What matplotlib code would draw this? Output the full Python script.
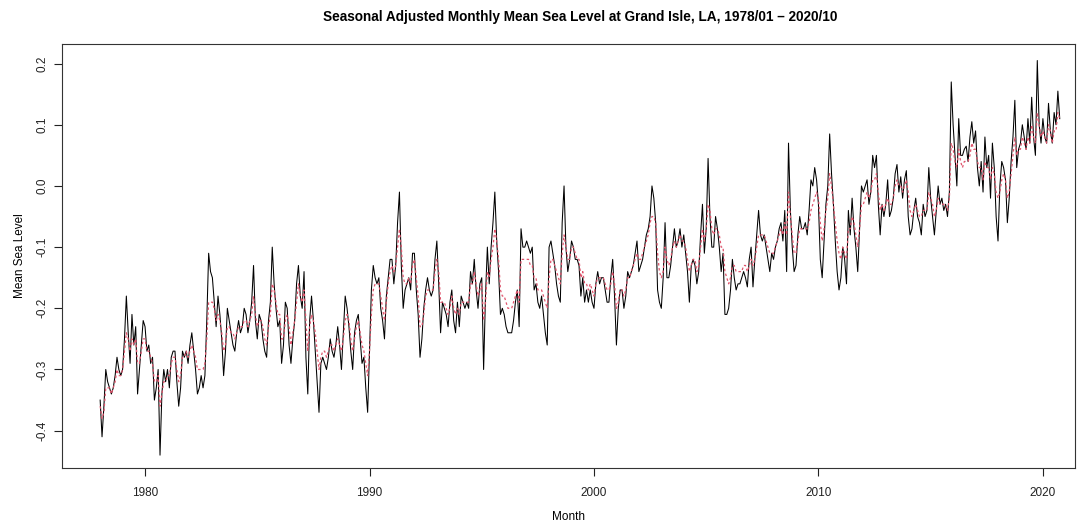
import numpy as np
import matplotlib
matplotlib.use("Agg")
import matplotlib.pyplot as plt

plt.rcParams['font.family'] = ['Liberation Sans', 'DejaVu Sans']

# monthly mean sea level (seasonally adjusted), 1978/01 - 2020/10
msl = {
    1978: [-0.35, -0.41, -0.36, -0.30, -0.32, -0.33, -0.34, -0.33, -0.31, -0.28, -0.30, -0.31],
    1979: [-0.30, -0.25, -0.18, -0.24, -0.29, -0.21, -0.26, -0.23, -0.34, -0.30, -0.26, -0.22],
    1980: [-0.23, -0.27, -0.26, -0.29, -0.28, -0.35, -0.33, -0.30, -0.44, -0.34, -0.30, -0.32],
    1981: [-0.30, -0.33, -0.28, -0.27, -0.27, -0.32, -0.36, -0.33, -0.27, -0.28, -0.27, -0.29],
    1982: [-0.26, -0.24, -0.27, -0.30, -0.34, -0.33, -0.31, -0.33, -0.31, -0.22, -0.11, -0.14],
    1983: [-0.15, -0.19, -0.23, -0.18, -0.21, -0.25, -0.31, -0.27, -0.20, -0.22, -0.24, -0.26],
    1984: [-0.27, -0.24, -0.22, -0.24, -0.23, -0.20, -0.21, -0.24, -0.22, -0.19, -0.13, -0.22],
    1985: [-0.25, -0.21, -0.22, -0.25, -0.27, -0.28, -0.22, -0.19, -0.10, -0.16, -0.20, -0.23],
    1986: [-0.22, -0.29, -0.26, -0.19, -0.20, -0.26, -0.29, -0.25, -0.22, -0.16, -0.13, -0.18],
    1987: [-0.20, -0.14, -0.28, -0.34, -0.22, -0.18, -0.22, -0.27, -0.32, -0.37, -0.29, -0.28],
    1988: [-0.29, -0.30, -0.28, -0.25, -0.27, -0.28, -0.26, -0.23, -0.26, -0.30, -0.24, -0.18],
    1989: [-0.20, -0.23, -0.27, -0.30, -0.24, -0.22, -0.21, -0.25, -0.29, -0.28, -0.33, -0.37],
    1990: [-0.27, -0.17, -0.13, -0.15, -0.16, -0.15, -0.20, -0.22, -0.25, -0.18, -0.15, -0.12],
    1991: [-0.12, -0.16, -0.13, -0.06, -0.01, -0.13, -0.20, -0.17, -0.16, -0.15, -0.17, -0.11],
    1992: [-0.11, -0.17, -0.21, -0.28, -0.25, -0.20, -0.17, -0.15, -0.17, -0.18, -0.17, -0.12],
    1993: [-0.09, -0.16, -0.24, -0.19, -0.20, -0.21, -0.23, -0.19, -0.17, -0.22, -0.24, -0.19],
    1994: [-0.23, -0.18, -0.19, -0.20, -0.19, -0.20, -0.14, -0.16, -0.12, -0.17, -0.20, -0.16],
    1995: [-0.15, -0.30, -0.18, -0.10, -0.16, -0.10, -0.06, -0.01, -0.09, -0.14, -0.21, -0.20],
    1996: [-0.21, -0.23, -0.24, -0.24, -0.24, -0.22, -0.19, -0.17, -0.23, -0.07, -0.10, -0.10],
    1997: [-0.09, -0.10, -0.11, -0.10, -0.17, -0.16, -0.19, -0.20, -0.18, -0.21, -0.24, -0.26],
    1998: [-0.10, -0.09, -0.11, -0.13, -0.16, -0.18, -0.19, -0.06, 0.00, -0.10, -0.14, -0.12],
    1999: [-0.09, -0.10, -0.12, -0.12, -0.13, -0.18, -0.15, -0.19, -0.17, -0.19, -0.17, -0.19],
    2000: [-0.20, -0.16, -0.14, -0.16, -0.15, -0.15, -0.17, -0.19, -0.19, -0.15, -0.12, -0.18],
    2001: [-0.26, -0.20, -0.17, -0.17, -0.20, -0.18, -0.14, -0.15, -0.14, -0.13, -0.11, -0.09],
    2002: [-0.14, -0.13, -0.12, -0.10, -0.08, -0.07, -0.05, 0.00, -0.02, -0.06, -0.17, -0.19],
    2003: [-0.20, -0.15, -0.06, -0.15, -0.15, -0.13, -0.10, -0.07, -0.10, -0.09, -0.07, -0.10],
    2004: [-0.08, -0.11, -0.14, -0.19, -0.13, -0.12, -0.13, -0.16, -0.14, -0.08, -0.03, -0.11],
    2005: [-0.07, 0.045, -0.05, -0.10, -0.10, -0.05, -0.07, -0.10, -0.14, -0.11, -0.21, -0.21],
    2006: [-0.20, -0.17, -0.12, -0.15, -0.17, -0.16, -0.16, -0.15, -0.14, -0.15, -0.165, -0.12],
    2007: [-0.10, -0.165, -0.12, -0.08, -0.04, -0.08, -0.09, -0.08, -0.10, -0.12, -0.14, -0.11],
    2008: [-0.12, -0.10, -0.09, -0.07, -0.06, -0.09, -0.04, -0.14, 0.07, -0.04, -0.10, -0.14],
    2009: [-0.13, -0.08, -0.05, -0.07, -0.07, -0.06, -0.08, -0.04, 0.01, 0.00, 0.03, 0.01],
    2010: [-0.03, -0.12, -0.15, -0.09, -0.03, 0.00, 0.085, 0.02, -0.03, -0.09, -0.14, -0.17],
    2011: [-0.15, -0.10, -0.12, -0.16, -0.04, -0.08, -0.02, -0.07, -0.10, -0.14, -0.07, 0.00],
    2012: [-0.01, 0.00, 0.01, -0.03, -0.01, 0.05, 0.03, 0.05, -0.03, -0.08, -0.03, -0.05],
    2013: [-0.03, 0.01, -0.05, -0.04, -0.02, 0.02, 0.035, -0.01, 0.015, -0.02, 0.01, 0.025],
    2014: [-0.05, -0.08, -0.07, -0.04, -0.02, -0.05, -0.06, -0.08, -0.03, -0.05, -0.04, 0.03],
    2015: [-0.02, -0.05, -0.08, -0.04, 0.00, -0.03, -0.02, -0.04, -0.03, -0.05, -0.01, 0.17],
    2016: [0.10, 0.05, 0.00, 0.11, 0.05, 0.05, 0.06, 0.065, 0.04, 0.08, 0.105, 0.07],
    2017: [0.09, 0.03, 0.00, 0.04, -0.01, 0.08, 0.03, 0.05, -0.02, 0.07, 0.03, -0.05],
    2018: [-0.09, 0.00, 0.04, 0.03, 0.01, -0.06, -0.02, 0.04, 0.08, 0.14, 0.03, 0.06],
    2019: [0.07, 0.10, 0.08, 0.06, 0.11, 0.07, 0.145, 0.08, 0.05, 0.205, 0.10, 0.07],
    2020: [0.11, 0.08, 0.07, 0.135, 0.09, 0.07, 0.12, 0.10, 0.155, 0.11],
}

# fitted / smoothed series (red dashed)
fit = {
    1978: [-0.36, -0.38, -0.37, -0.33, -0.33, -0.33, -0.34, -0.33, -0.32, -0.30, -0.31, -0.31],
    1979: [-0.30, -0.27, -0.24, -0.25, -0.27, -0.25, -0.26, -0.25, -0.29, -0.29, -0.27, -0.25],
    1980: [-0.25, -0.27, -0.27, -0.28, -0.29, -0.32, -0.32, -0.31, -0.36, -0.34, -0.32, -0.32],
    1981: [-0.31, -0.31, -0.29, -0.28, -0.28, -0.30, -0.32, -0.31, -0.28, -0.28, -0.27, -0.28],
    1982: [-0.27, -0.26, -0.27, -0.28, -0.30, -0.30, -0.30, -0.30, -0.29, -0.25, -0.19, -0.19],
    1983: [-0.19, -0.20, -0.22, -0.21, -0.22, -0.24, -0.27, -0.26, -0.23, -0.23, -0.24, -0.24],
    1984: [-0.25, -0.24, -0.23, -0.23, -0.23, -0.22, -0.22, -0.23, -0.22, -0.21, -0.18, -0.21],
    1985: [-0.23, -0.22, -0.22, -0.23, -0.25, -0.26, -0.23, -0.21, -0.16, -0.17, -0.19, -0.21],
    1986: [-0.21, -0.25, -0.25, -0.22, -0.21, -0.23, -0.26, -0.24, -0.22, -0.19, -0.16, -0.18],
    1987: [-0.19, -0.17, -0.22, -0.27, -0.23, -0.21, -0.22, -0.24, -0.27, -0.30, -0.28, -0.27],
    1988: [-0.27, -0.28, -0.27, -0.26, -0.26, -0.27, -0.26, -0.25, -0.26, -0.27, -0.25, -0.22],
    1989: [-0.21, -0.22, -0.25, -0.27, -0.25, -0.23, -0.22, -0.24, -0.26, -0.27, -0.29, -0.31],
    1990: [-0.27, -0.21, -0.17, -0.16, -0.16, -0.16, -0.18, -0.20, -0.22, -0.19, -0.16, -0.14],
    1991: [-0.13, -0.14, -0.13, -0.10, -0.07, -0.10, -0.15, -0.16, -0.16, -0.15, -0.16, -0.13],
    1992: [-0.12, -0.15, -0.18, -0.23, -0.23, -0.21, -0.18, -0.17, -0.17, -0.17, -0.17, -0.14],
    1993: [-0.12, -0.14, -0.19, -0.19, -0.19, -0.20, -0.21, -0.20, -0.18, -0.20, -0.21, -0.20],
    1994: [-0.21, -0.19, -0.19, -0.19, -0.19, -0.19, -0.16, -0.16, -0.14, -0.16, -0.18, -0.17],
    1995: [-0.16, -0.22, -0.19, -0.14, -0.15, -0.12, -0.10, -0.07, -0.09, -0.12, -0.17, -0.18],
    1996: [-0.18, -0.19, -0.20, -0.20, -0.20, -0.19, -0.18, -0.17, -0.19, -0.12, -0.12, -0.12],
    1997: [-0.12, -0.12, -0.13, -0.13, -0.15, -0.15, -0.17, -0.17, -0.17, -0.18, -0.19, -0.20],
    1998: [-0.15, -0.12, -0.12, -0.13, -0.14, -0.15, -0.16, -0.11, -0.08, -0.10, -0.12, -0.12],
    1999: [-0.10, -0.10, -0.11, -0.12, -0.12, -0.15, -0.14, -0.16, -0.16, -0.17, -0.16, -0.17],
    2000: [-0.18, -0.16, -0.15, -0.15, -0.15, -0.15, -0.16, -0.17, -0.17, -0.16, -0.14, -0.16],
    2001: [-0.20, -0.19, -0.17, -0.17, -0.18, -0.17, -0.15, -0.15, -0.14, -0.13, -0.12, -0.11],
    2002: [-0.12, -0.12, -0.11, -0.10, -0.09, -0.08, -0.06, -0.05, -0.05, -0.06, -0.11, -0.14],
    2003: [-0.15, -0.14, -0.10, -0.12, -0.13, -0.12, -0.10, -0.09, -0.10, -0.09, -0.08, -0.09],
    2004: [-0.09, -0.10, -0.12, -0.14, -0.13, -0.12, -0.12, -0.14, -0.13, -0.10, -0.07, -0.09],
    2005: [-0.07, -0.03, -0.04, -0.07, -0.08, -0.07, -0.07, -0.08, -0.10, -0.10, -0.14, -0.15],
    2006: [-0.16, -0.15, -0.13, -0.13, -0.14, -0.14, -0.14, -0.14, -0.13, -0.13, -0.14, -0.13],
    2007: [-0.12, -0.13, -0.12, -0.10, -0.08, -0.08, -0.08, -0.08, -0.09, -0.10, -0.11, -0.11],
    2008: [-0.11, -0.10, -0.09, -0.08, -0.07, -0.08, -0.06, -0.08, -0.01, -0.05, -0.08, -0.11],
    2009: [-0.11, -0.09, -0.07, -0.07, -0.07, -0.07, -0.07, -0.06, -0.04, -0.03, -0.02, -0.01],
    2010: [-0.02, -0.06, -0.09, -0.07, -0.04, -0.02, 0.02, 0.00, -0.03, -0.06, -0.09, -0.11],
    2011: [-0.12, -0.10, -0.11, -0.12, -0.07, -0.07, -0.05, -0.06, -0.08, -0.10, -0.07, -0.03],
    2012: [-0.03, -0.02, -0.01, -0.02, -0.01, 0.01, 0.01, 0.02, -0.01, -0.04, -0.03, -0.04],
    2013: [-0.03, -0.02, -0.03, -0.03, -0.02, 0.00, 0.01, 0.00, 0.00, -0.01, 0.00, 0.01],
    2014: [-0.01, -0.04, -0.05, -0.04, -0.03, -0.04, -0.05, -0.05, -0.04, -0.04, -0.04, -0.01],
    2015: [-0.02, -0.03, -0.05, -0.04, -0.02, -0.03, -0.03, -0.03, -0.03, -0.04, -0.02, 0.07],
    2016: [0.06, 0.04, 0.03, 0.06, 0.04, 0.03, 0.04, 0.04, 0.04, 0.05, 0.07, 0.06],
    2017: [0.06, 0.04, 0.03, 0.03, 0.01, 0.04, 0.03, 0.03, 0.01, 0.03, 0.02, -0.01],
    2018: [-0.02, -0.01, 0.01, 0.02, 0.01, -0.02, -0.01, 0.02, 0.05, 0.08, 0.05, 0.06],
    2019: [0.06, 0.08, 0.07, 0.06, 0.08, 0.07, 0.10, 0.08, 0.07, 0.12, 0.10, 0.08],
    2020: [0.09, 0.08, 0.07, 0.10, 0.09, 0.07, 0.09, 0.09, 0.12, 0.11],
}

years = sorted(msl)
black = np.concatenate([msl[y] for y in years])
red = np.concatenate([fit[y] for y in years])
t = 1978 + np.arange(len(black)) / 12.0

fig = plt.figure(figsize=(10.9, 5.23), dpi=100)
ax = fig.add_axes([62/1090, 1 - 468/523, (1075 - 62)/1090, (468 - 44)/523])

ax.plot(t, black, color='black', lw=0.75)
ax.plot(t, red, color='#DF536B', lw=0.9, linestyle=(0, (2, 2)))

ax.set_xlim(1976.3, 2021.43)
ax.set_ylim(-0.461, 0.232)
ax.set_xticks([1980, 1990, 2000, 2010, 2020])
ax.set_yticks([-0.4, -0.3, -0.2, -0.1, 0.0, 0.1, 0.2])
ax.set_yticklabels(['-0.4', '-0.3', '-0.2', '-0.1', '0.0', '0.1', '0.2'], rotation=90, va='center')
ax.tick_params(direction='out', length=6, width=0.8, labelsize=8.5, colors='#222222')
ax.tick_params(axis='x', pad=8)
ax.tick_params(axis='y', pad=4)
for s in ax.spines.values():
    s.set_linewidth(0.8)
    s.set_color('#333333')

ax.set_xlabel('Month', fontsize=8.5, labelpad=8)
ax.set_ylabel('Mean Sea Level', fontsize=8.5, labelpad=7)
fig.text(580/1090, 1 - 17/523, 'Seasonal Adjusted Monthly Mean Sea Level at Grand Isle, LA, 1978/01 \u2013 2020/10',
         ha='center', va='center', fontsize=9.8, fontweight='bold')

fig.savefig('out.png', dpi=100)
